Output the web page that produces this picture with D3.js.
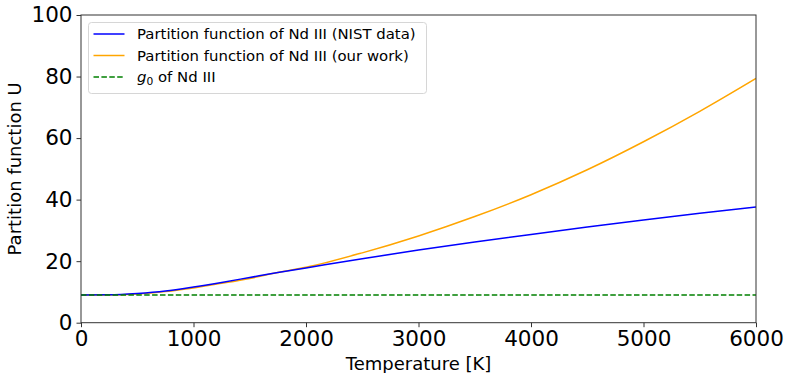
<!DOCTYPE html>
<html>
<head>
<meta charset="utf-8">
<script src="https://cdn.jsdelivr.net/npm/d3@7"></script>
<style>
  html, body { margin: 0; padding: 0; background: #fff; }
  svg { display: block; font-family: "DejaVu Sans", sans-serif; }
</style>
</head>
<body>
<svg id="chart" width="786" height="373"></svg>
<script>
// Temperature grid [K]
const temperatures = [0, 250, 500, 750, 1000, 1250, 1500, 1750, 2000, 2500, 3000, 3500, 4000, 4500, 5000, 5500, 6000];
// Partition function of Nd III from NIST levels
const nistU = [9.0, 9.05, 9.5, 10.3, 11.6, 13.1, 14.7, 16.3, 17.8, 20.8, 23.6, 26.2, 28.7, 31.1, 33.4, 35.6, 37.6];
// Partition function of Nd III from our level set
const ourU = [9.0, 9.0, 9.3, 10.1, 11.3, 12.8, 14.4, 16.3, 18.0, 22.7, 28.2, 34.5, 41.6, 49.7, 58.8, 68.7, 79.4];
// Ground-state statistical weight
const g0 = 9;

const xTicks = [0, 1000, 2000, 3000, 4000, 5000, 6000];
const yTicks = [0, 20, 40, 60, 80, 100];

const svg = d3.select("#chart");
const margin = { left: 81, right: 30, top: 15, bottom: 50.3 };
const W = 786, H = 373;
const x = d3.scaleLinear().domain([0, 6000]).range([margin.left, W - margin.right]);
const y = d3.scaleLinear().domain([0, 100]).range([H - margin.bottom, margin.top]);

const plot = svg.append("g");

// clip for curves
svg.append("defs").append("clipPath").attr("id", "clip")
  .append("rect").attr("x", x(0)).attr("y", y(100))
  .attr("width", x(6000) - x(0)).attr("height", y(0) - y(100));

const line = d3.line().x((d, i) => x(temperatures[i])).y(d => y(d)).curve(d3.curveMonotoneX);

const curves = plot.append("g").attr("clip-path", "url(#clip)");
curves.append("path").datum(ourU).attr("d", line)
  .attr("fill", "none").attr("stroke", "#ffa500").attr("stroke-width", 1.5);
curves.append("path").datum(nistU).attr("d", line)
  .attr("fill", "none").attr("stroke", "#0000ff").attr("stroke-width", 1.5);
curves.append("line")
  .attr("x1", x(0)).attr("x2", x(6000)).attr("y1", y(g0)).attr("y2", y(g0))
  .attr("stroke", "#008000").attr("stroke-width", 1.5).attr("stroke-dasharray", "5.5,2.4");

// axes
const xAxis = d3.axisBottom(x).tickValues(xTicks).tickFormat(d3.format("d")).tickSizeOuter(0).tickSize(4.5).tickPadding(4);
const yAxis = d3.axisLeft(y).tickValues(yTicks).tickFormat(d3.format("d")).tickSizeOuter(0).tickSize(4.5).tickPadding(4);

const gx = svg.append("g").attr("transform", `translate(0,${y(0)})`).call(xAxis);
const gy = svg.append("g").attr("transform", `translate(${x(0)},0)`).call(yAxis);
[gx, gy].forEach(g => {
  g.select(".domain").remove();
  g.selectAll(".tick line").attr("stroke", "#333").attr("stroke-width", 1);
  g.selectAll(".tick text").attr("fill", "#000").style("font-size", "21.5px")
    .style("font-family", "'DejaVu Sans', sans-serif");
});

// frame
svg.append("rect").attr("x", x(0)).attr("y", y(100))
  .attr("width", x(6000) - x(0)).attr("height", y(0) - y(100))
  .attr("fill", "none").attr("stroke", "#333").attr("stroke-width", 1);

// axis titles
svg.append("text").attr("x", (x(0) + x(6000)) / 2).attr("y", 369.5)
  .attr("text-anchor", "middle").style("font-size", "18px").text("Temperature [K]");
svg.append("text")
  .attr("transform", `translate(21,${(y(0) + y(100)) / 2}) rotate(-90)`)
  .attr("text-anchor", "middle").style("font-size", "18px").text("Partition function U");

// legend
const legend = svg.append("g");
legend.append("rect").attr("x", 88.5).attr("y", 22.5).attr("width", 338).attr("height", 71)
  .attr("rx", 3).attr("fill", "#fff").attr("fill-opacity", 0.8)
  .attr("stroke", "#d6d6d6").attr("stroke-width", 1);

const entries = [
  { color: "#0000ff", dash: null, label: "Partition function of Nd III (NIST data)" },
  { color: "#ffa500", dash: null, label: "Partition function of Nd III (our work)" },
  { color: "#008000", dash: "5.5,2.4", label: null }
];
const rowY = [34, 55.5, 77];
entries.forEach((e, i) => {
  legend.append("line").attr("x1", 93.5).attr("x2", 124.5).attr("y1", rowY[i]).attr("y2", rowY[i])
    .attr("stroke", e.color).attr("stroke-width", 1.5).attr("stroke-dasharray", e.dash);
  const t = legend.append("text").attr("x", 137).attr("y", rowY[i] + 5.4).style("font-size", "14.9px");
  if (e.label) {
    t.text(e.label);
  } else {
    t.append("tspan").style("font-style", "italic").text("g");
    t.append("tspan").attr("dy", 3).style("font-size", "10.7px").text("0");
    t.append("tspan").attr("dy", -3).text(" of Nd III");
  }
});
</script>
</body>
</html>
